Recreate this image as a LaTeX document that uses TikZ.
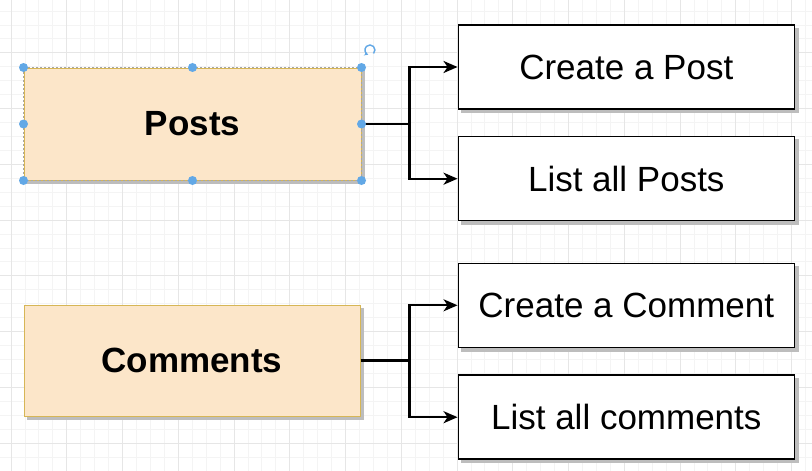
\documentclass[tikz,border=0pt]{standalone}
\usepackage{fontspec}
\setmainfont{Liberation Sans}
\usetikzlibrary{arrows.meta,calc}
\definecolor{gridminor}{HTML}{F4F4F4}
\definecolor{gridmajor}{HTML}{E6E6E6}
\definecolor{entityfill}{HTML}{FCE6C9}
\definecolor{entityline}{HTML}{D6B656}
\definecolor{handleblue}{HTML}{62A8E6}
\definecolor{shadowgray}{HTML}{BDBDBD}
\pgfdeclarelayer{gridlayer}
\pgfdeclarelayer{shadowlayer}
\pgfsetlayers{gridlayer,shadowlayer,main}
\tikzset{
  entity/.style={draw=entityline,line width=1pt,fill=entityfill,
    minimum width=336pt,minimum height=112pt,inner sep=0pt,
    font=\fontsize{35}{42}\selectfont\bfseries},
  action/.style={draw=black,line width=1.5pt,fill=white,
    minimum width=336pt,minimum height=84pt,inner sep=0pt,
    font=\fontsize{35}{42}\selectfont},
  link/.style={draw=black,line width=2.2pt,
    -{Stealth[length=14pt,width=12pt,inset=4pt]}},
  handle/.style={circle,fill=handleblue,inner sep=0pt,minimum size=9pt},
  boxshade/.style={fill=shadowgray},
}
\begin{document}
\begin{tikzpicture}[x=1pt,y=-1pt]
  \useasboundingbox (0,0) rectangle (812,471);
  \begin{pgfonlayer}{gridlayer}
    \fill[white] (0,0) rectangle (812,471);
    \foreach \i in {0,...,58} {
      \pgfmathsetmacro\gx{10.95+13.9375*(\i-1)}
      \draw[gridminor,line width=0.7pt] (\gx,0) -- (\gx,471);
    }
    \foreach \i in {0,...,35} {
      \pgfmathsetmacro\gy{-3+13.9375*\i}
      \draw[gridminor,line width=0.7pt] (0,\gy) -- (812,\gy);
    }
    \foreach \i in {0,...,15} {
      \pgfmathsetmacro\gx{10.95+55.75*\i}
      \draw[gridmajor,line width=0.9pt] (\gx,0) -- (\gx,471);
    }
    \foreach \i in {0,...,9} {
      \pgfmathsetmacro\gy{-3+55.75*\i}
      \draw[gridmajor,line width=0.9pt] (0,\gy) -- (812,\gy);
    }
  \end{pgfonlayer}

  % entities
  \node[entity,minimum width=337pt] (posts) at (192.5,124) {Posts};
  \node[entity,minimum height=111pt] (comments) at (192,360.5) {Comments};

  % actions
  \node[action] (cpost) at (626.3,67) {Create a Post};
  \node[action] (lpost) at (626.3,178.7) {List all Posts};
  \node[action] (ccom) at (626.3,305.3) {Create a Comment};
  \node[action] (lcom) at (626.3,417.2) {List all comments};

  % box shadows, offset down and to the right
  \begin{pgfonlayer}{shadowlayer}
    \foreach \n in {posts,comments,cpost,lpost,ccom,lcom}
      \fill[boxshade] ($(\n.north west)+(3.5,3.5)$) rectangle ($(\n.south east)+(3.5,3.5)$);
  \end{pgfonlayer}

  % connectors
  \draw[link] (posts.east) -- ++(48,0) |- (cpost.west);
  \draw[link] (posts.east) -- ++(48,0) |- (lpost.west);
  \draw[link] (comments.east) -- ++(49,0) |- (ccom.west);
  \draw[link] (comments.east) -- ++(49,0) |- (lcom.west);

  % selection outline and handles on Posts
  \draw[gray!70,line width=0.6pt,dash pattern=on 2pt off 2pt]
    (posts.north west) rectangle (posts.south east);
  \foreach \a in {north west,north,north east,west,east,south west,south,south east}
    \node[handle] at (posts.\a) {};
  \coordinate (rot) at (370,57);
  \draw[handleblue,line width=1.4pt,-{Stealth[length=4pt,width=4.5pt]}]
    ($(rot)+(3.5,-3.5)$) arc[start angle=45,end angle=-250,radius=5];
\end{tikzpicture}
\end{document}
